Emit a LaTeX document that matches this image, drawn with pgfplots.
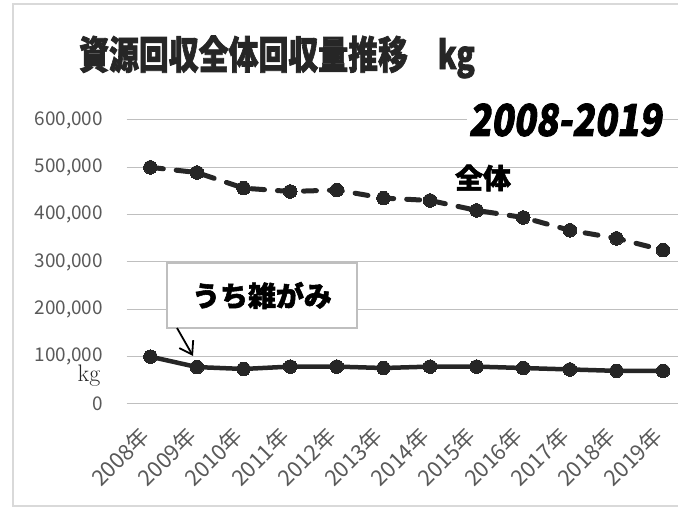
\documentclass[border=0pt]{standalone}
\usepackage{fontspec}
\usepackage{graphicx}
\setmainfont{Noto Sans CJK JP}
\newfontfamily\jpblack[FakeBold=2]{Noto Sans CJK JP Black}
\newfontfamily\jpslant[FakeSlant=0.18,FakeBold=2]{Noto Sans CJK JP Black}
\newfontfamily\lmr{Latin Modern Roman}
\usepackage{pgfplots}
\pgfplotsset{compat=1.18}
\usetikzlibrary{arrows.meta}
\definecolor{ink}{HTML}{262626}
\definecolor{tick}{HTML}{595959}
\definecolor{grid}{HTML}{D9D9D9}
\definecolor{frame}{HTML}{D9D9D9}
\definecolor{boxc}{HTML}{BFBFBF}
\begin{document}
\begin{tikzpicture}[x=1bp,y=1bp]
\begin{axis}[
  at={(126.6bp,103bp)}, anchor=south west,
  width=551.4bp, height=284bp, scale only axis,
  xmin=-0.51, xmax=11.32, ymin=0, ymax=600000,
  axis line style={draw=none},
  xmajorgrids=false, ymajorgrids=true, grid style={grid, line width=1bp},
  xtick=data,
  xticklabels={2008年,2009年,2010年,2011年,2012年,2013年,2014年,2015年,2016年,2017年,2018年,2019年},
  ytick={0,100000,200000,300000,400000,500000,600000},
  scaled y ticks=false,
  /pgf/number format/fixed,
  /pgf/number format/1000 sep={,},
  /pgf/number format/assume math mode=true,
  yticklabel style={font=\fontsize{19}{22}\selectfont, text=tick, anchor=east, inner sep=0pt, xshift=-23.6bp},
  xticklabel style={font=\fontsize{22}{25}\selectfont, text=tick, inner sep=0pt, xshift=-5bp, yshift=-28bp, rotate=45, anchor=east},
  major tick length=0pt,
  major tick style={draw=none},
  clip=false,
]
\addplot[ink, line width=5bp, line cap=round, dash pattern=on 13bp off 13bp,
  mark=*, mark size=6.8bp, mark options={solid, fill=ink, draw=ink, line width=0bp}]
  coordinates {(0,500000) (1,489000) (2,456000) (3,449000) (4,452000) (5,435000)
               (6,430000) (7,409000) (8,394000) (9,367000) (10,350000) (11,325000)};
\addplot[ink, line width=4.5bp, line cap=round,
  mark=*, mark size=6.8bp, mark options={solid, fill=ink, draw=ink, line width=0bp}]
  coordinates {(0,100000) (1,78000) (2,74000) (3,79000) (4,79000) (5,76000)
               (6,79000) (7,79000) (8,76000) (9,73000) (10,70000) (11,70000)};
\end{axis}
% outer frame
\draw[frame, line width=1.5bp] (13,1) rectangle (720,503);
% title
\node[text=ink, inner sep=0pt] at (277,450) {\scalebox{1}[1.3]{\jpblack\fontsize{30}{34}\selectfont 資源回収全体回収量推移　kg}};
% period
\node[fill=white, text=black, inner sep=2bp] at (565,387) {\scalebox{0.92}[1.1]{\jpslant\fontsize{40}{44}\selectfont 2008-2019}};
% 全体
\node[text=black, inner sep=0pt] at (483,329) {\jpblack\fontsize{28}{32}\selectfont 全体};
% box
\draw[boxc, line width=1.2bp, fill=white] (167,244) rectangle (357,179);
\node[text=black, inner sep=0pt] at (262,211.5) {\jpblack\fontsize{28}{32}\selectfont うち雑がみ};
\draw[black, line width=1.8bp, -{Straight Barb[length=12bp,width=16bp,line width=1.8bp]}] (177,179) -- (193,151);
% kg
\node[text=ink, inner sep=0pt] at (89,131) {\lmr\fontsize{24}{26}\selectfont kg};
\pgfresetboundingbox
\path (0,0) rectangle (678,507);
\end{tikzpicture}
\end{document}
